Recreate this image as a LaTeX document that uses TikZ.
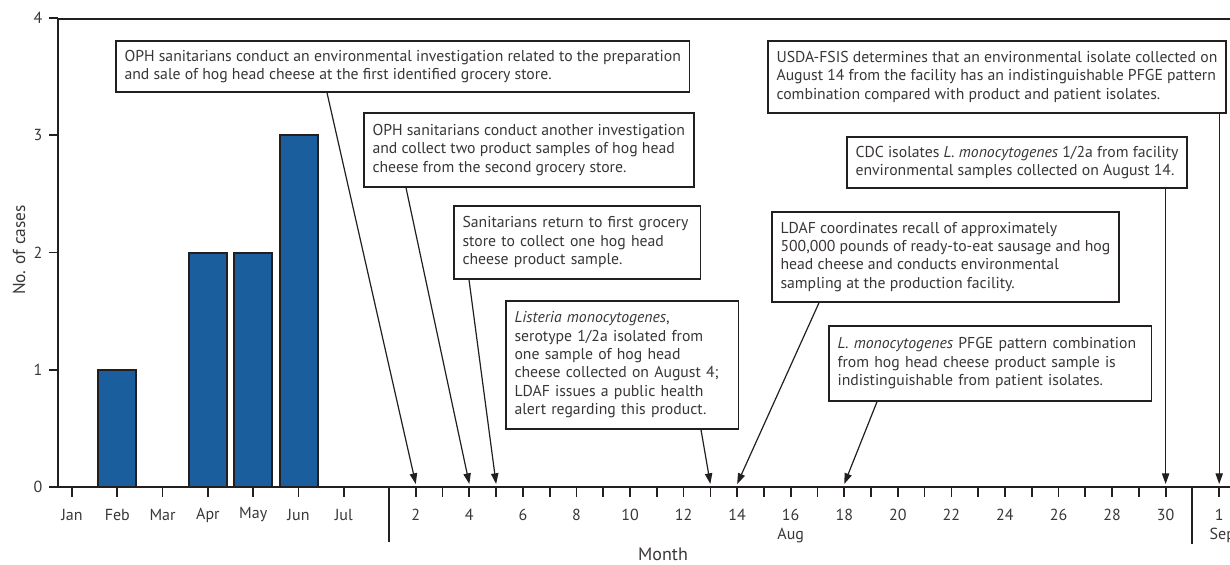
\documentclass[tikz,border=0pt]{standalone}
\usepackage{fontspec}
\setmainfont{PT Sans}
\usetikzlibrary{arrows.meta,calc}
\definecolor{ink}{HTML}{231F20}
\definecolor{txt}{HTML}{3A3637}
\definecolor{barblue}{HTML}{1B5E9E}
\begin{document}
\begin{tikzpicture}[x=0.75pt,y=-0.75pt,
  axisline/.style={draw=ink,line width=1.6pt},
  tickline/.style={draw=ink,line width=1.3pt},
  bar/.style={draw=ink,line width=1.5pt,fill=barblue},
  evbox/.style={draw=ink,line width=1.3pt,fill=white,anchor=north west,align=left,
     text=txt,inner xsep=6.5pt,font=\fontsize{11.8}{13.8}\selectfont},
  lbl/.style={text=txt,font=\fontsize{12}{13}\selectfont},
  conn/.style={draw=ink,line width=0.9pt,-{Triangle[length=8pt,width=5.5pt]}}]
\useasboundingbox (0,0) rectangle (1230,564);
% axes
\draw[axisline] (58,19) -- (1230,19);
\draw[axisline] (58,19) -- (58,487);
\draw[axisline] (50,487) -- (1230,487);
% y ticks
\foreach \k in {0,...,4}{
  \draw[tickline] (49,{487-\k*117.25}) -- (58,{487-\k*117.25});
  \node[lbl,anchor=east] (yl\k) at (47,{487-\k*117.25}) {\k};
}
\node[lbl,rotate=90,font=\fontsize{13}{14}\selectfont] (ylab) at (19,250) {No. of cases};
% month ticks and labels
\foreach \m/\n in {1/Jan,2/Feb,3/Mar,4/Apr,5/May,6/Jun,7/Jul}{
  \draw[tickline] ({72+(\m-1)*45.3},487) -- ++(0,10);
  \node[lbl] (ml\m) at ({72+(\m-1)*45.3},515) {\n};
}
% bars
\draw[bar] ({72+1*45.3-19},487) rectangle ({72+1*45.3+19},{487-117.25});
\draw[bar] ({72+3*45.3-19},487) rectangle ({72+3*45.3+19},{487-2*117.25});
\draw[bar] ({72+4*45.3-19},487) rectangle ({72+4*45.3+19},{487-2*117.25});
\draw[bar] ({72+5*45.3-19},487) rectangle ({72+5*45.3+19},{487-3*117.25});
% separators
\draw[axisline] (389,487) -- (389,542);
\draw[axisline] (1192.4,487) -- (1192.4,544);
% day ticks
\foreach \d in {2,...,30,32}{
  \draw[tickline] ({389+(\d-1)*26.78},487) -- ++(0,10);
}
\foreach \d in {2,4,...,30}{
  \node[lbl] (dl\d) at ({389+(\d-1)*26.78},515) {\d};
}
\node[lbl] (dl32) at ({389+31*26.78},515) {1};
\node[lbl] (aug) at ({389+15*26.78},535) {Aug};
\node[lbl,anchor=west] (sep) at (1205,535) {Sep};
\node[lbl,font=\fontsize{13.5}{15}\selectfont] (month) at (663,554) {Month};
% arrow tip coordinates
\foreach \d in {2,4,5,13,14,18,30,32}{
  \coordinate (t\d) at ({389+(\d-1)*26.78},484);
}
% event boxes
\node[evbox,minimum height=38.25pt] (nA) at (115,40) {OPH sanitarians conduct an environmental investigation related to the preparation\\and sale of hog head cheese at the first identified grocery store.};
\node[evbox,minimum height=55.5pt] (nB) at (363,112) {OPH sanitarians conduct another investigation\\and collect two product samples of hog head\\cheese from the second grocery store.};
\node[evbox,minimum height=54.75pt,text width=172pt] (nC) at (453,205) {Sanitarians return to first grocery\\store to collect one hog head\\cheese product sample.};
\node[evbox,minimum height=96pt,text width=161.5pt] (nD) at (505,300) {\textit{Listeria monocytogenes},\\serotype 1/2a isolated from\\one sample of hog head\\cheese collected on August 4;\\LDAF issues a public health\\alert regarding this product.};
\node[evbox,minimum height=54pt] (nE) at (767,40) {USDA-FSIS determines that an environmental isolate collected on\\August 14 from the facility has an indistinguishable PFGE pattern\\combination compared with product and patient isolates.};
\node[evbox,minimum height=38.25pt] (nF) at (846,136) {CDC isolates \textit{L. monocytogenes} 1/2a from facility\\environmental samples collected on August 14.};
\node[evbox,minimum height=67.5pt] (nG) at (771,211) {LDAF coordinates recall of approximately\\500,000 pounds of ready-to-eat sausage and hog\\head cheese and conducts environmental\\sampling at the production facility.};
\node[evbox,minimum height=56.25pt,text width=229pt] (nH) at (828,325) {\textit{L. monocytogenes} PFGE pattern combination\\from hog head cheese product sample is\\indistinguishable from patient isolates.};
% connectors
\draw[conn] ($(nA.south west)+(212,0)$) -- (t2);
\draw[conn] ($(nB.south west)+(43,0)$) -- (t4);
\draw[conn] ($(nC.south west)+(16,0)$) -- (t5);
\draw[conn] ($(nD.south west)+(196,0)$) -- (t13);
\draw[conn] ($(nG.south west)+(48,0)$) -- (t14);
\draw[conn] ($(nH.south west)+(49,0)$) -- (t18);
\draw[conn] (t30 |- nF.south) -- (t30);
\draw[conn] (t32 |- nE.south) -- (t32);
\end{tikzpicture}
\end{document}
